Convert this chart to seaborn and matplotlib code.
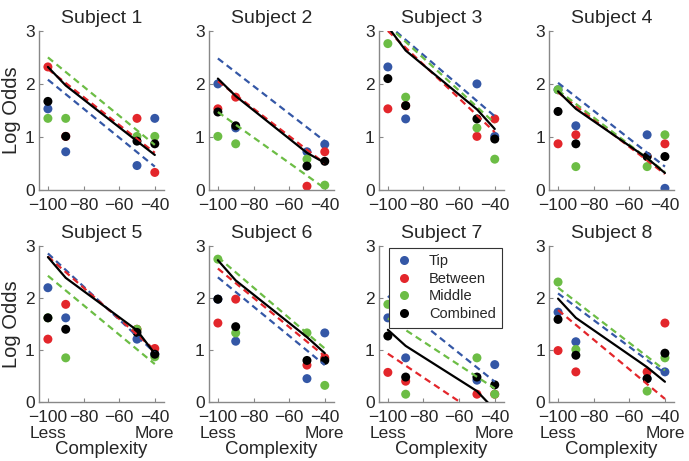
import numpy as np
import pandas as pd
import matplotlib
matplotlib.use('Agg')
import matplotlib.pyplot as plt
from matplotlib.lines import Line2D
import seaborn as sns

# complexity levels where the data were measured
x_levels = [-100, -90, -50, -40]
fit_x = [-100, -40]
subjects = ['Subject 1', 'Subject 2', 'Subject 3', 'Subject 4',
            'Subject 5', 'Subject 6', 'Subject 7', 'Subject 8']
groups = ['Tip', 'Between', 'Middle', 'Combined']

# observed log odds (one row per subject, values at x_levels)
tip_pts = [[1.53, 0.72, 0.46, 1.35], [2.00, 1.17, 0.72, 0.86],
           [2.32, 1.34, 2.00, 1.01], [1.89, 1.21, 1.04, 0.03],
           [2.20, 1.62, 1.21, 0.92], [1.98, 1.17, 0.45, 1.33],
           [1.62, 0.85, 0.42, 0.72], [1.73, 1.16, 0.45, 0.58]]
between_pts = [[2.32, 1.01, 1.35, 0.33], [1.53, 1.75, 0.07, 0.72],
               [1.53, 1.59, 1.01, 1.34], [0.87, 1.04, 0.63, 0.87],
               [1.21, 1.88, 1.40, 1.03], [1.52, 1.98, 0.71, 0.85],
               [0.57, 0.40, 0.15, 0.15], [0.99, 0.58, 0.58, 1.52]]
middle_pts = [[1.35, 1.35, 1.01, 1.01], [1.01, 0.87, 0.58, 0.09],
              [2.76, 1.75, 1.17, 0.58], [1.89, 0.44, 0.44, 1.04],
              [1.62, 0.85, 1.40, 0.87], [2.75, 1.33, 1.33, 0.32],
              [1.88, 0.15, 0.85, 0.15], [2.31, 1.01, 0.21, 0.85]]
combined_pts = [[1.67, 1.01, 0.92, 0.87], [1.47, 1.21, 0.45, 0.54],
                [2.10, 1.59, 1.34, 0.96], [1.48, 0.87, 0.63, 0.63],
                [1.62, 1.40, 1.34, 0.92], [1.98, 1.45, 0.80, 0.80],
                [1.27, 0.48, 0.48, 0.33], [1.59, 0.90, 0.45, 0.94]]

# model fits: dashed lines at fit_x, combined fit at x_levels
tip_fit = [[2.08, 0.44], [2.48, 0.92], [3.12, 1.39], [2.02, 0.44],
           [2.86, 0.95], [2.40, 0.71], [2.04, 0.39], [2.09, 0.55]]
between_fit = [[2.28, 0.70], [2.05, 0.50], [3.00, 1.09], [1.84, 0.30],
               [2.80, 1.00], [2.57, 0.88], [0.93, -0.45], [1.77, 0.06]]
middle_fit = [[2.50, 0.85], [1.47, 0.03], [3.10, 1.26], [1.88, 0.34],
              [2.43, 0.73], [2.79, 1.03], [1.61, 0.26], [2.20, 0.61]]
combined_fit = [[2.32, 1.97, 0.92, 0.66], [2.10, 1.77, 0.70, 0.51],
                [3.08, 2.63, 1.52, 1.15], [1.86, 1.53, 0.60, 0.32],
                [2.79, 2.39, 1.38, 0.93], [2.73, 2.34, 1.25, 0.94],
                [1.39, 1.08, 0.21, -0.15], [1.99, 1.62, 0.67, 0.39]]

colors = {'Tip': '#3457a6', 'Between': '#e3262b', 'Middle': '#6cbd45', 'Combined': '#000000'}

pts = {'Tip': tip_pts, 'Between': between_pts, 'Middle': middle_pts, 'Combined': combined_pts}
rows = []
for g in groups:
    for i, s in enumerate(subjects):
        for x, v in zip(x_levels, pts[g][i]):
            rows.append({'subject': s, 'group': g, 'x': x, 'value': v})
df = pd.DataFrame(rows)

sns.set_style('ticks')
plt.rcParams['font.family'] = ['Liberation Sans', 'DejaVu Sans']
plt.rcParams['axes.unicode_minus'] = True

fig = plt.figure(figsize=(6.89, 4.61), dpi=100)
lefts = [0.0566, 0.3033, 0.550, 0.797]
width = 0.181
bottoms = [0.588, 0.128]
heights = [0.345, 0.338]
grey = '#888888'

dash_fits = {'Tip': tip_fit, 'Between': between_fit, 'Middle': middle_fit}

for i, s in enumerate(subjects):
    r, c = divmod(i, 4)
    ax = fig.add_axes([lefts[c], bottoms[r], width, heights[r]])
    sub = df[df['subject'] == s]
    sns.scatterplot(data=sub, x='x', y='value', hue='group', hue_order=groups,
                    palette=colors, s=42, edgecolor='none', legend=False,
                    ax=ax, zorder=2)
    for g in ['Tip', 'Between', 'Middle']:
        ax.plot(fit_x, dash_fits[g][i], color=colors[g], lw=1.6,
                dashes=(3, 2), zorder=3)
    sns.lineplot(x=x_levels, y=combined_fit[i], color='black', lw=1.6,
                 estimator=None, sort=False, ax=ax, zorder=4)

    ax.set_xlim(-105, -35)
    ax.set_ylim(0, 3)
    ax.set_yticks([0, 1, 2, 3])
    ax.set_xticks([-100, -80, -60, -40])
    if r == 1:
        ax.set_xticklabels(['\u2212100\nLess', '\u221280', '\u221260', '\u221240\nMore'],
                           linespacing=1.05)
        ax.set_xlabel('Complexity', fontsize=13.5, labelpad=0)
    else:
        ax.set_xticklabels(['\u2212100', '\u221280', '\u221260', '\u221240'])
        ax.set_xlabel('')
    if c == 0:
        ax.set_ylabel('Log Odds', fontsize=14.5, labelpad=3)
    else:
        ax.set_ylabel('')
    ax.set_title(s, fontsize=14, pad=6)
    ax.tick_params(direction='in', length=3, color=grey, labelsize=12.5)
    ax.tick_params(axis='x', pad=6)
    ax.tick_params(axis='y', pad=3)
    for sp in ['top', 'right']:
        ax.spines[sp].set_visible(False)
    for sp in ['left', 'bottom']:
        ax.spines[sp].set_color(grey)
        ax.spines[sp].set_linewidth(1.0)

    if i == 6:
        handles = [Line2D([], [], marker='o', linestyle='none', markersize=6.5,
                          markerfacecolor=colors[g], markeredgecolor='none')
                   for g in groups]
        leg = ax.legend(handles, groups, loc='upper right', fontsize=10.5,
                        frameon=True, fancybox=False, framealpha=1,
                        edgecolor='#333333', borderaxespad=0.1,
                        handlelength=1.2, handletextpad=1.1,
                        labelspacing=0.25, borderpad=0.45)
        leg.get_frame().set_linewidth(0.8)

fig.savefig('out.png', dpi=100)
